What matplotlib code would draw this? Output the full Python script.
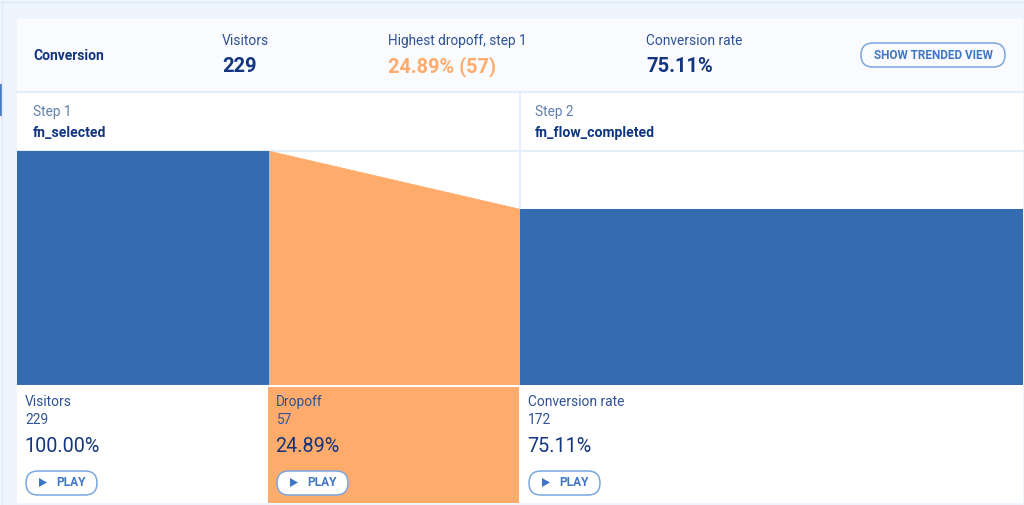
import matplotlib.pyplot as plt
from matplotlib.patches import FancyBboxPatch, Polygon, Rectangle

plt.rcParams["font.family"] = ["Roboto", "DejaVu Sans"]

visitors = 229
dropoff = 57
converted = 172
dropoff_pct = "24.89%"
conversion_pct = "75.11%"

steps = ["Step 1", "Step 2"]
events = ["fn_selected", "fn_flow_completed"]
cell_labels = ["Visitors", "Dropoff", "Conversion rate"]
cell_counts = [visitors, dropoff, converted]
cell_pcts = ["100.00%", dropoff_pct, conversion_pct]

navy = "#12357f"
label_blue = "#2f5296"
step_grey = "#5f7fb0"
blue = "#356bb1"
orange = "#ffab6b"
line = "#dfeafa"
btn = "#7ba6e0"
btn_text = "#3f76c6"
W, H = 1024, 505

fig = plt.figure(figsize=(W / 100, H / 100), dpi=100, facecolor="#eef5fe")

# background layer in pixels, y going down like the screenshot
bg = fig.add_axes([0, 0, 1, 1])
bg.set_xlim(0, W)
bg.set_ylim(H, 0)
bg.axis("off")

bg.add_patch(Rectangle((17, 19), 1006, 73, fc="#f9fbff", ec="none"))
bg.add_patch(Rectangle((17, 92), 1006, 411, fc="white", ec="none"))
bg.add_patch(Rectangle((268, 386), 251, 117, fc=orange, ec="none"))
bg.add_patch(Rectangle((0, 84), 2, 32, fc="#4a7cc4", ec="none"))
bg.plot([0, W], [2, 2], color=line, lw=1)
bg.plot([1.5, 1.5], [2, 505], color=line, lw=1)
bg.plot([17, 1023], [91.5, 91.5], color=line, lw=1.2)
bg.plot([17, 1023], [151, 151], color=line, lw=1.2)
bg.plot([519.5, 519.5], [92, 385], color=line, lw=1.2)

# funnel, x in steps and y in visitors
ax = fig.add_axes([17 / W, (H - 385) / H, 1006 / W, 234 / H])
ax.set_xlim(0, 2)
ax.set_ylim(0, visitors)
ax.axis("off")
ax.patch.set_alpha(0)
ax.add_patch(Polygon([(0.5, 0), (0.5, visitors), (1, converted), (1, 0)], fc=orange, ec=orange, lw=0.5))
ax.bar(0.25, visitors, width=0.5, color=blue)
ax.bar(1.5, converted, width=1.0, color=blue)

# front layer for text and buttons
top = fig.add_axes([0, 0, 1, 1])
top.set_xlim(0, W)
top.set_ylim(H, 0)
top.axis("off")
top.patch.set_alpha(0)
top.plot([17, 519], [385.5, 385.5], color="white", lw=1.5)


def txt(x, y, s, size, color, weight="normal", ha="left"):
    top.text(x, y, s, fontsize=size, color=color, fontweight=weight, ha=ha, va="baseline")


def pill(x, y, w, h, face):
    r = h / 2
    top.add_patch(FancyBboxPatch((x + r, y + r), w - h, 0.01, boxstyle=f"round,pad={r}",
                                 fc=face, ec=btn, lw=1.1))


# header row
txt(33, 60, "Conversion", 10, navy, "bold")
txt(222, 45, "Visitors", 10, label_blue)
txt(222, 72, str(visitors), 14.5, navy, "bold")
txt(388, 45, "Highest dropoff, step 1", 9.85, label_blue)
txt(388, 72, f"{dropoff_pct} ({dropoff})", 14.3, orange, "bold")
txt(646, 45, "Conversion rate", 9.9, label_blue)
txt(646, 72, conversion_pct, 14.5, navy, "bold")
pill(861, 43, 144, 24, "none")
txt(933.5, 59, "SHOW TRENDED VIEW", 8.45, btn_text, "bold", ha="center")

# step names
for x, step, event in zip([33, 535], steps, events):
    txt(x, 116, step, 9.8, step_grey)
    txt(x, 137, event, 10.1, navy, "bold")

# bottom cells
for x, label, count, pct in zip([25, 276, 528], cell_labels, cell_counts, cell_pcts):
    txt(x, 406, label, 9.9, label_blue)
    txt(x, 424, str(count), 9.9, label_blue)
    txt(x - 1, 452, pct, 14.2, navy)
    pill(x + 1, 471, 71, 24, "white")
    top.add_patch(Polygon([(x + 14, 478), (x + 14, 487), (x + 22, 482.5)], fc=btn_text, ec="none"))
    txt(x + 31, 486, "PLAY", 8.6, btn_text, "bold")

fig.savefig("out.png", dpi=100, facecolor=fig.get_facecolor())
